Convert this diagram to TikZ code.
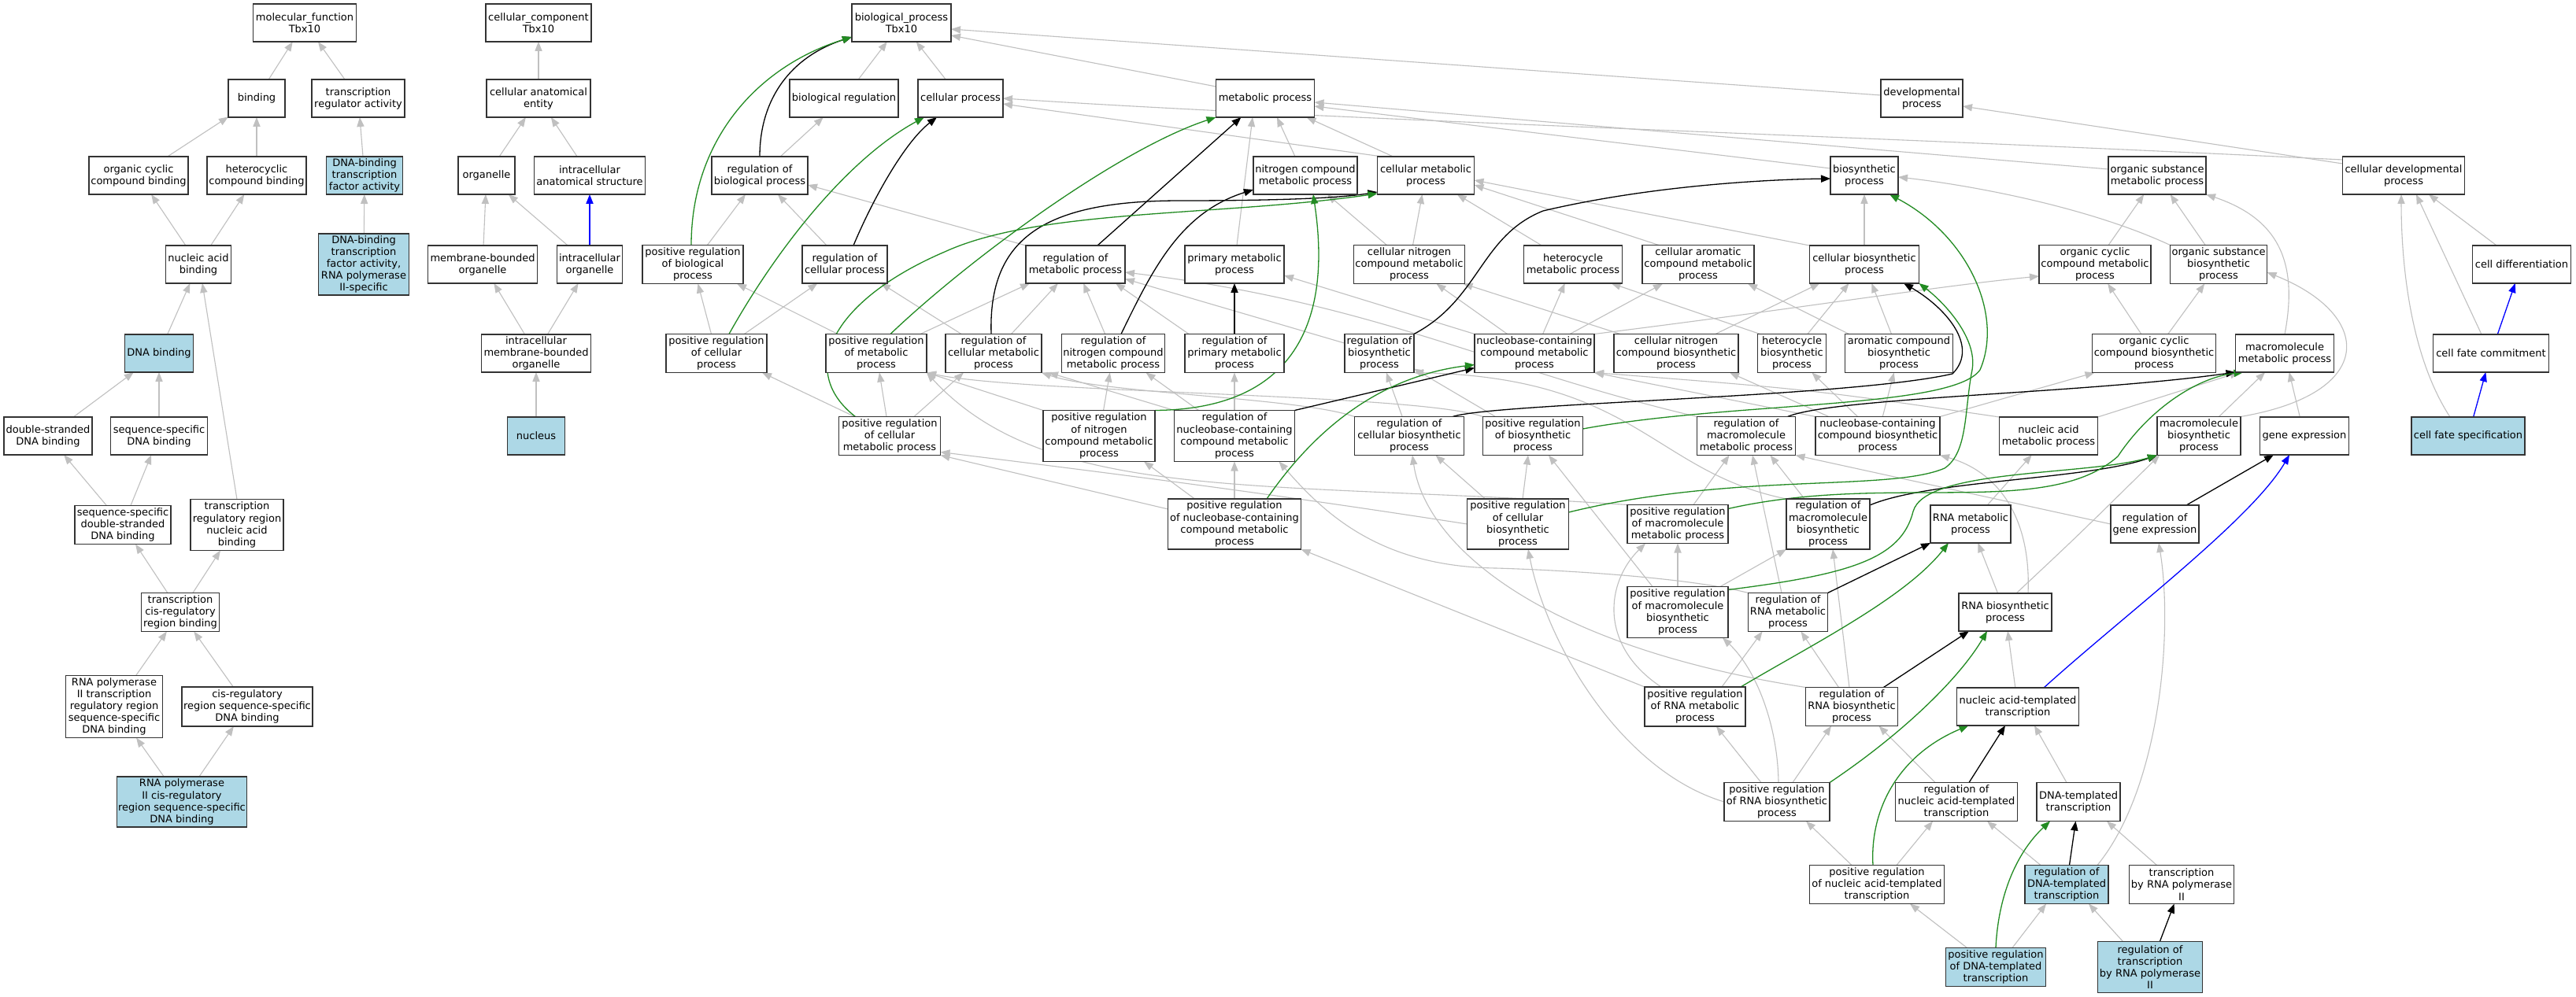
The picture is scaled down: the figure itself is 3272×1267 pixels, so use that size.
\documentclass[tikz,border=0pt]{standalone}
\usepackage{fontspec}
\setmainfont{DejaVu Sans}
\usetikzlibrary{arrows.meta,calc,backgrounds}
\definecolor{eg}{HTML}{C0C0C0}
\definecolor{pg}{HTML}{228B22}
\definecolor{lb}{HTML}{ADD8E6}
\newcommand{\gofont}{\fontsize{6.5pt}{7.55pt}\selectfont}
\tikzset{
 bx/.style 2 args={draw=black!80, line width=0.7pt, fill=white, minimum width=#1*0.5pt, minimum height=#2*0.5pt, inner sep=0pt, outer sep=0pt, align=center, font=\gofont},
 hl/.style={fill=lb},
 isa/.style={draw=eg, line width=0.55pt, -{Triangle[length=6pt,width=4.6pt]}},
 rgl/.style={draw=black, line width=0.65pt, -{Triangle[length=6pt,width=4.6pt]}},
 prg/.style={draw=pg, line width=0.65pt, -{Triangle[length=6pt,width=4.6pt]}},
 prt/.style={draw=blue, line width=0.65pt, -{Triangle[length=6pt,width=4.6pt]}},
}
\begin{document}
\begin{tikzpicture}[x=0.5pt,y=-0.5pt]
\useasboundingbox (0,0) rectangle (3272,1267);
% ---------------- molecular function
\node[bx={131}{48}] (mf) at (387,29) {molecular\_function\\Tbx10};
\node[bx={72}{48}] (binding) at (326,125) {binding};
\node[bx={118}{48}] (tra) at (455,125) {transcription\\regulator activity};
\node[bx={126}{48}] (occb) at (176,223) {organic cyclic\\compound binding};
\node[bx={126}{48}] (hcb) at (326,223) {heterocyclic\\compound binding};
\node[bx={97}{48},hl] (dbtf) at (463,223) {DNA-binding\\transcription\\factor activity};
\node[bx={83}{48}] (nab) at (252,336) {nucleic acid\\binding};
\node[bx={115}{78},hl] (dbtf2) at (462,336) {DNA-binding\\transcription\\factor activity,\\RNA polymerase\\II-specific};
\node[bx={87}{48},hl] (dnab) at (202,449) {DNA binding};
\node[bx={112}{48}] (dsdna) at (61,554) {double-stranded\\DNA binding};
\node[bx={123}{48}] (ssdna) at (202,554) {sequence-specific\\DNA binding};
\node[bx={122}{49}] (ssds) at (156,667) {sequence-specific\\double-stranded\\DNA binding};
\node[bx={118}{65}] (trrnab) at (301,667) {transcription\\regulatory region\\nucleic acid\\binding};
\node[bx={99}{49}] (tcrrb) at (229,778) {transcription\\cis-regulatory\\region binding};
\node[bx={123}{79}] (rp2trr) at (145,898) {RNA polymerase\\II transcription\\regulatory region\\sequence-specific\\DNA binding};
\node[bx={166}{50}] (crrss) at (314,898) {cis-regulatory\\region sequence-specific\\DNA binding};
\node[bx={165}{64},hl] (rp2cr) at (231,1019) {RNA polymerase\\II cis-regulatory\\region sequence-specific\\DNA binding};
% ---------------- cellular component
\node[bx={134}{48}] (cc) at (684,29) {cellular\_component\\Tbx10};
\node[bx={132}{48}] (cae) at (684,125) {cellular anatomical\\entity};
\node[bx={72}{48}] (org) at (618,223) {organelle};
\node[bx={141}{48}] (ias) at (749,223) {intracellular\\anatomical structure};
\node[bx={139}{48}] (mbo) at (613,336) {membrane-bounded\\organelle};
\node[bx={83}{48}] (io) at (749,336) {intracellular\\organelle};
\node[bx={139}{48}] (imbo) at (681,449) {intracellular\\membrane-bounded\\organelle};
\node[bx={73}{48},hl] (nucleus) at (681,554) {nucleus};
% ---------------- biological process
\node[bx={126}{48}] (bp) at (1145,29) {biological\_process\\Tbx10};
\node[bx={138}{48}] (bioreg) at (1072,125) {biological regulation};
\node[bx={108}{48}] (cp) at (1220,125) {cellular process};
\node[bx={125}{48}] (mp) at (1607,125) {metabolic process};
\node[bx={104}{48}] (dp) at (2441,125) {developmental\\process};
\node[bx={122}{48}] (rbp) at (965,223) {regulation of\\biological process};
\node[bx={132}{48}] (ncmp) at (1658,223) {nitrogen compound\\metabolic process};
\node[bx={123}{48}] (cmp) at (1811,223) {cellular metabolic\\process};
\node[bx={86}{48}] (bsp) at (2368,223) {biosynthetic\\process};
\node[bx={124}{48}] (osmp) at (2740,223) {organic substance\\metabolic process};
\node[bx={155}{48}] (cdp) at (3053,223) {cellular developmental\\process};
\node[bx={128}{49}] (prbp) at (880,336) {positive regulation\\of biological\\process};
\node[bx={108}{48}] (rcp) at (1073,336) {regulation of\\cellular process};
\node[bx={126}{48}] (rmp) at (1366,336) {regulation of\\metabolic process};
\node[bx={126}{48}] (pmp) at (1568,336) {primary metabolic\\process};
\node[bx={141}{49}] (cncmp) at (1790,336) {cellular nitrogen\\compound metabolic\\process};
\node[bx={125}{48}] (hmp) at (1998,336) {heterocycle\\metabolic process};
\node[bx={142}{49}] (camp) at (2157,336) {cellular aromatic\\compound metabolic\\process};
\node[bx={139}{48}] (cbp) at (2368,336) {cellular biosynthetic\\process};
\node[bx={142}{49}] (occmp) at (2661,336) {organic cyclic\\compound metabolic\\process};
\node[bx={123}{49}] (osbp) at (2818,336) {organic substance\\biosynthetic\\process};
\node[bx={125}{48}] (cdiff) at (3203,336) {cell differentiation};
\node[bx={128}{49}] (prcp) at (910,449) {positive regulation\\of cellular\\process};
\node[bx={128}{49}] (prmp) at (1113,449) {positive regulation\\of metabolic\\process};
\node[bx={122}{49}] (rcmp) at (1262,449) {regulation of\\cellular metabolic\\process};
\node[bx={131}{49}] (rncmp) at (1414,449) {regulation of\\nitrogen compound\\metabolic process};
\node[bx={126}{49}] (rpmp) at (1568,449) {regulation of\\primary metabolic\\process};
\node[bx={88}{49}] (rbsp) at (1752,449) {regulation of\\biosynthetic\\process};
\node[bx={152}{49}] (nccmp) at (1949,449) {nucleobase-containing\\compound metabolic\\process};
\node[bx={158}{49}] (cncbp) at (2129,449) {cellular nitrogen\\compound biosynthetic\\process};
\node[bx={87}{49}] (hbp) at (2276,449) {heterocycle\\biosynthetic\\process};
\node[bx={137}{49}] (acbp) at (2412,449) {aromatic compound\\biosynthetic\\process};
\node[bx={157}{49}] (occbp) at (2736,449) {organic cyclic\\compound biosynthetic\\process};
\node[bx={125}{48}] (mmp) at (2902,449) {macromolecule\\metabolic process};
\node[bx={147}{48}] (cfc) at (3164,449) {cell fate commitment};
\node[bx={129}{49}] (prcmp) at (1130,554) {positive regulation\\of cellular\\metabolic process};
\node[bx={142}{65}] (prncmp) at (1396,554) {positive regulation\\of nitrogen\\compound metabolic\\process};
\node[bx={153}{65}] (rnccmp) at (1568,554) {regulation of\\nucleobase-containing\\compound metabolic\\process};
\node[bx={139}{49}] (rcbp) at (1790,554) {regulation of\\cellular biosynthetic\\process};
\node[bx={127}{49}] (prbsp) at (1947,554) {positive regulation\\of biosynthetic\\process};
\node[bx={125}{49}] (rmmp) at (2218,554) {regulation of\\macromolecule\\metabolic process};
\node[bx={158}{49}] (nccbp) at (2385,554) {nucleobase-containing\\compound biosynthetic\\process};
\node[bx={125}{48}] (namp) at (2602,554) {nucleic acid\\metabolic process};
\node[bx={106}{49}] (mbp) at (2793,554) {macromolecule\\biosynthetic\\process};
\node[bx={113}{48}] (ge) at (2927,554) {gene expression};
\node[bx={144}{48},hl] (cfs) at (3135,554) {cell fate specification};
\node[bx={169}{64}] (prnccmp) at (1568,666) {positive regulation\\of nucleobase-containing\\compound metabolic\\process};
\node[bx={129}{64}] (prcbp) at (1928,666) {positive regulation\\of cellular\\biosynthetic\\process};
\node[bx={128}{49}] (prmmp) at (2131,666) {positive regulation\\of macromolecule\\metabolic process};
\node[bx={106}{64}] (rmbp) at (2322,666) {regulation of\\macromolecule\\biosynthetic\\process};
\node[bx={102}{48}] (rnamp) at (2503,666) {RNA metabolic\\process};
\node[bx={112}{48}] (rge) at (2737,666) {regulation of\\gene expression};
\node[bx={128}{65}] (prmbp) at (2131,778) {positive regulation\\of macromolecule\\biosynthetic\\process};
\node[bx={101}{49}] (rrnamp) at (2271,778) {regulation of\\RNA metabolic\\process};
\node[bx={118}{48}] (rnabp) at (2547,778) {RNA biosynthetic\\process};
\node[bx={128}{50}] (prrnamp) at (2153,898) {positive regulation\\of RNA metabolic\\process};
\node[bx={117}{49}] (rrnabp) at (2352,898) {regulation of\\RNA biosynthetic\\process};
\node[bx={155}{48}] (natt) at (2563,898) {nucleic acid-templated\\transcription};
\node[bx={134}{49}] (prrnabp) at (2257,1019) {positive regulation\\of RNA biosynthetic\\process};
\node[bx={155}{49}] (rnatt) at (2485,1019) {regulation of\\nucleic acid-templated\\transcription};
\node[bx={106}{49}] (dtt) at (2640,1019) {DNA-templated\\transcription};
\node[bx={171}{49}] (prnatt) at (2384,1124) {positive regulation\\of nucleic acid-templated\\transcription};
\node[bx={106}{49},hl] (rdtt) at (2625,1124) {regulation of\\DNA-templated\\transcription};
\node[bx={133}{49}] (trp2) at (2771,1124) {transcription\\by RNA polymerase\\II};
\node[bx={127}{49},hl] (prdtt) at (2535,1229) {positive regulation\\of DNA-templated\\transcription};
\node[bx={133}{65},hl] (rtrp2) at (2731,1229) {regulation of\\transcription\\by RNA polymerase\\II};

\begin{pgfonlayer}{background}
\fill[white] (0,0) rectangle (3272,1267);
% ---- MF
\draw[isa] (binding) -- (mf);
\draw[isa] (tra) -- (mf);
\draw[isa] (occb) -- (binding);
\draw[isa] (hcb) -- (binding);
\draw[isa] (dbtf) -- (tra);
\draw[isa] (nab) -- (occb);
\draw[isa] (nab) -- (hcb);
\draw[isa] (dbtf2) -- (dbtf);
\draw[isa] (dnab) -- (nab);
\draw[isa] (dsdna) -- (dnab);
\draw[isa] (ssdna) -- (dnab);
\draw[isa] (trrnab.north) -- ($(nab.south)+(5,0)$);
\draw[isa] (ssds) -- (dsdna);
\draw[isa] (ssds) -- (ssdna);
\draw[isa] (tcrrb) -- (ssds);
\draw[isa] (tcrrb) -- (trrnab);
\draw[isa] (rp2trr) -- (tcrrb);
\draw[isa] (crrss) -- (tcrrb);
\draw[isa] (rp2cr) -- (rp2trr);
\draw[isa] (rp2cr) -- (crrss);
% ---- CC
\draw[isa] (cae) -- (cc);
\draw[isa] (org) -- (cae);
\draw[isa] (ias) -- (cae);
\draw[isa] (mbo) -- (org);
\draw[isa] (io) -- (org);
\draw[prt] (io) -- (ias);
\draw[isa] (imbo) -- (mbo);
\draw[isa] (imbo) -- (io);
\draw[isa] (nucleus) -- (imbo);
% ---- BP gray
\draw[isa] (bioreg) -- (bp);
\draw[isa] (cp) -- (bp);
\draw[isa] ($(mp.west)+(0,-15)$) -- ($(bp.east)+(0,16)$);
\draw[isa] ($(dp.west)+(0,-4)$) -- ($(bp.east)+(0,8)$);
\draw[isa] (rbp) -- (bioreg);
\draw[isa] (prbp) -- (rbp);
\draw[isa] (rcp) -- (rbp);
\draw[isa] (prcp) -- (prbp);
\draw[isa] (prcp) -- (rcp);
\draw[isa] ($(cmp.north west)+(20,0)$) -- ($(mp.south east)+(-10,0)$);
\draw[isa] ($(cmp.north west)+(6,0)$) -- ($(cp.east)+(0,7)$);
\draw[isa] ($(ncmp.north)+(-13,0)$) -- ($(mp.south)+(15,0)$);
\draw[isa] ($(bsp.west)+(0,-9)$) -- ($(mp.east)+(0,10)$);
\draw[isa] ($(osmp.west)+(0,-8)$) -- ($(mp.east)+(0,5)$);
\draw[isa] ($(cdp.west)+(0,-15)$) -- ($(dp.east)+(0,10)$);
\draw[isa] ($(cdp.west)+(0,-20)$) .. controls (2300,170) and (1700,153) .. ($(cp.east)+(0,0)$);
\draw[isa] (pmp) -- ($(mp.south)+(-16,0)$);
\draw[isa] (cncmp) -- (ncmp);
\draw[isa] (cncmp) -- (cmp);
\draw[isa] (hmp) -- (cmp);
\draw[isa] ($(camp.north west)+(21,0)$) -- ($(cmp.east)+(0,12)$);
\draw[isa] (cbp.north west) -- ($(cmp.east)+(0,6)$);
\draw[isa] (cbp) -- (bsp);
\draw[isa] (occmp) -- (osmp);
\draw[isa] (osbp) -- (osmp);
\draw[isa] (osbp.north west) .. controls (2650,262) and (2500,235) .. ($(bsp.east)+(0,2)$);
\draw[isa] (cdiff) -- (cdp);
\draw[isa] (rmp.north west) -- ($(rbp.east)+(0,12)$);
\draw[isa] ($(prmp.north east)+(-8,0)$) -- ($(rmp.south west)+(5,0)$);
\draw[isa] ($(prmp.north west)+(15,0)$) -- ($(prbp.south east)+(-8,0)$);
\draw[isa] (rcmp) -- (rmp);
\draw[isa] ($(rcmp.north west)+(20,0)$) -- ($(rcp.south east)+(-8,0)$);
\draw[isa] (rncmp) -- (rmp);
\draw[isa] ($(rpmp.north west)+(5,0)$) -- ($(rmp.south east)+(-12,0)$);
\draw[isa] (rbsp) -- (rmp);
\draw[isa] (nccmp) -- (cncmp);
\draw[isa] (nccmp) -- (hmp);
\draw[isa] (nccmp) -- (camp);
\draw[isa] (nccmp.north east) .. controls (2300,390) and (2450,365) .. ($(occmp.west)+(0,15)$);
\draw[isa] (nccmp.north west) -- ($(pmp.east)+(0,14)$);
\draw[isa] ($(cncbp.north west)+(8,0)$) -- ($(cncmp.south east)+(-2,0)$);
\draw[isa] ($(cncbp.north)+(50,0)$) -- ($(cbp.south west)+(13,0)$);
\draw[isa] ($(hbp.north west)+(3,0)$) -- ($(hmp.south east)+(-14,0)$);
\draw[isa] (hbp) -- (cbp);
\draw[isa] ($(acbp.north west)+(5,0)$) -- ($(camp.south east)+(-8,0)$);
\draw[isa] (acbp) -- (cbp);
\draw[isa] (occbp) -- (occmp);
\draw[isa] (occbp) -- (osbp);
\draw[isa] (mmp.north) .. controls (2918,340) and (2900,280) .. (osmp.south east);
\draw[isa] ($(cfc.north)+(-12,0)$) -- ($(cdp.south)+(16,0)$);
\draw[isa] ($(cfs.north west)+(49,0)$) .. controls (3060,450) and (3050,330) .. ($(cdp.south)+(-3,0)$);
\draw[isa] (prcmp) -- (prmp);
\draw[isa] ($(prcmp.north)+(31,0)$) -- ($(rcmp.south west)+(23,0)$);
\draw[isa] ($(prcmp.north west)+(20,0)$) -- ($(prcp.south east)+(-6,0)$);
\draw[isa] (prncmp.north west) -- (prmp.south east);
\draw[isa] (prncmp) -- (rncmp);
\draw[isa] (rnccmp.north west) -- ($(rcmp.south east)+(9,0)$);
\draw[isa] ($(rnccmp.north west)+(31,0)$) -- ($(rncmp.south east)+(-24,0)$);
\draw[isa] (rnccmp) -- (rpmp);
\draw[isa] (rcbp) -- (rbsp);
\draw[isa] (rcbp.north west) .. controls (1650,505) and (1400,500) .. (rcmp.south east);
\draw[isa] ($(prbsp.north west)+(16,0)$) -- ($(rbsp.south east)+(0,-5)$);
\draw[isa] (prbsp.north west) .. controls (1800,500) and (1300,500) .. (prmp.south east);
\draw[isa] (rmmp.north west) .. controls (1900,470) and (1750,385) .. ($(rmp.east)+(0,10)$);
\draw[isa] (nccbp.north west) -- (nccmp.south east);
\draw[isa] ($(nccbp.north west)+(17,0)$) -- ($(cncbp.south east)+(-11,0)$);
\draw[isa] (nccbp) -- (hbp);
\draw[isa] (nccbp) -- (acbp);
\draw[isa] (nccbp.north east) -- ($(occbp.south west)+(3,0)$);
\draw[isa] (namp.north west) .. controls (2300,495) .. (nccmp.south east);
\draw[isa] (namp.north east) -- ($(mmp.south west)+(5,0)$);
\draw[isa] (mbp) -- (mmp);
\draw[isa] (mbp.north east) .. controls (3020,500) and (3015,400) .. ($(osbp.east)+(0,10)$);
\draw[isa] (ge) -- (mmp);
\draw[isa] (prnccmp) -- (rnccmp);
\draw[isa] ($(prnccmp.west)+(0,-19)$) -- (prcmp.south east);
\draw[isa] ($(prnccmp.north west)+(34,0)$) -- ($(prncmp.south east)+(-14,0)$);
\draw[isa] ($(prcbp.north west)+(23,0)$) -- ($(rcbp.south east)+(-36,0)$);
\draw[isa] ($(prcbp.north)+(6,0)$) -- ($(prbsp.south)+(-6,0)$);
\draw[isa] (prcbp.west) .. controls (1600,625) and (1400,600) .. ($(prcmp.south east)+(0,-4)$);
\draw[isa] ($(prmmp.north)+(20,0)$) -- ($(rmmp.south west)+(41,0)$);
\draw[isa] (prmmp.north west) .. controls (1600,610) and (1330,640) .. (prmp.south east);
\draw[isa] ($(rmbp.north west)+(23,0)$) -- ($(rmmp.south east)+(-32,0)$);
\draw[isa] (rmbp.north west) .. controls (2100,600) and (2080,480) .. (rbsp.south east);
\draw[isa] (rnamp) -- (namp);
\draw[isa] (rge.west) -- (rmmp.south east);
\draw[isa] (prmbp) -- (prmmp);
\draw[isa] ($(prmbp.north east)+(-10,0)$) -- (rmbp.south west);
\draw[isa] ($(prmbp.north west)+(32,0)$) -- ($(prbsp.south)+(20,0)$);
\draw[isa] ($(rrnamp.north)+(-8,0)$) -- ($(rmmp.south)+(8,0)$);
\draw[isa] (rrnamp.north west) .. controls (2150,735) and (2000,725) .. (1900,722) .. controls (1750,720) and (1680,650) .. ($(rnccmp.south east)+(-20,0)$);
\draw[isa] (rnabp) -- (rnamp);
\draw[isa] ($(rnabp.north)+(29,0)$) .. controls (2580,660) and (2540,600) .. (nccbp.south east);
\draw[isa] ($(rnabp.north)+(14,0)$) .. controls (2640,680) .. ($(mbp.south west)+(3,0)$);
\draw[isa] ($(prrnamp.north east)+(-30,0)$) -- ($(rrnamp.south west)+(18,0)$);
\draw[isa] (prrnamp.north west) -- (prnccmp.south east);
\draw[isa] ($(prrnamp.north west)+(21,0)$) .. controls (2030,820) and (2040,740) .. ($(prmmp.south west)+(23,0)$);
\draw[isa] (rrnabp) -- (rrnamp);
\draw[isa] (rrnabp.north west) .. controls (1950,820) and (1810,690) .. ($(rcbp.south)+(4,0)$);
\draw[isa] ($(rrnabp.north)+(-3,0)$) -- ($(rmbp.south)+(6,0)$);
\draw[isa] (natt) -- (rnabp);
\draw[isa] ($(prrnabp.north)+(20,0)$) -- ($(rrnabp.south)+(-26,0)$);
\draw[isa] ($(prrnabp.north)+(-20,0)$) -- ($(prrnamp.south)+(27,0)$);
\draw[isa] (prrnabp.west) .. controls (2060,980) and (1965,820) .. ($(prcbp.south)+(13,0)$);
\draw[isa] ($(prrnabp.north)+(2,0)$) .. controls (2258,920) and (2230,850) .. ($(prmbp.south east)+(-7,0)$);
\draw[isa] ($(rnatt.north)+(-27,0)$) -- ($(rrnabp.south east)+(-24,0)$);
\draw[isa] ($(dtt.north)+(-15,0)$) -- ($(natt.south)+(21,0)$);
\draw[isa] ($(prnatt.north)+(25,0)$) -- ($(rnatt.south)+(-30,0)$);
\draw[isa] ($(prnatt.north)+(-32,0)$) -- ($(prrnabp.south)+(37,0)$);
\draw[isa] ($(rdtt.north west)+(20,0)$) -- ($(rnatt.south)+(39,0)$);
\draw[isa] ($(rdtt.north east)+(-14,0)$) .. controls (2745,1000) and (2760,800) .. ($(rge.south)+(5,0)$);
\draw[isa] ($(trp2.north west)+(35,0)$) -- ($(dtt.south east)+(-17,0)$);
\draw[isa] ($(prdtt.north west)+(27,0)$) -- ($(prnatt.south)+(42,0)$);
\draw[isa] ($(prdtt.north)+(21,0)$) -- ($(rdtt.south west)+(27,0)$);
\draw[isa] ($(rtrp2.north west)+(32,0)$) -- ($(rdtt.south east)+(-25,0)$);
% ---- regulates (black)
\draw[rgl] (rbp.north) .. controls (965,125) and (1005,72) .. ($(bp.south west)+(0,-6)$);
\draw[rgl] ($(rcp.north)+(11,0)$) .. controls (1110,250) and (1150,180) .. ($(cp.south)+(-30,0)$);
\draw[rgl] ($(rmp.north)+(28,0)$) -- ($(mp.south west)+(32,0)$);
\draw[rgl] ($(rcmp.north)+(-3,0)$) .. controls (1255,300) and (1330,255) .. (1500,255) .. controls (1620,255) and (1700,252) .. ($(cmp.south west)+(0,-3)$);
\draw[rgl] ($(rncmp.north)+(10,0)$) .. controls (1465,340) and (1500,270) .. ($(ncmp.south west)+(0,-6)$);
\draw[rgl] (rpmp) -- (pmp);
\draw[rgl] (rbsp.north east) .. controls (1880,380) and (1880,300) .. (1960,268) .. controls (2100,235) and (2250,228) .. ($(bsp.west)+(0,4)$);
\draw[rgl] (rnccmp.north east) -- ($(nccmp.south west)+(0,-6)$);
\draw[rgl] ($(rcbp.north)+(55,0)$) .. controls (1900,512) and (2350,505) .. (2480,475) .. controls (2515,440) and (2470,390) .. ($(cbp.south)+(50,0)$);
\draw[rgl] ($(rmmp.north east)+(-10,0)$) .. controls (2330,505) and (2650,500) .. (mmp.south west);
\draw[rgl] ($(rmbp.north east)+(0,8)$) .. controls (2450,610) and (2650,610) .. (mbp.south west);
\draw[rgl] ($(rge.north east)+(-16,0)$) -- ($(ge.south)+(-39,0)$);
\draw[rgl] (rrnamp.north east) -- (rnamp.south west);
\draw[rgl] ($(rrnabp.north east)+(-18,0)$) -- ($(rnabp.south west)+(13,0)$);
\draw[rgl] ($(rnatt.north)+(16,0)$) -- ($(natt.south)+(-16,0)$);
\draw[rgl] (rdtt) -- (dtt);
\draw[rgl] (rtrp2) -- (trp2);
% ---- positively regulates (green)
\draw[prg] ($(prbp.north)+(-2,0)$) .. controls (878,180) and (960,85) .. ($(bp.south west)+(0,-6)$);
\draw[prg] ($(prcp.north)+(16,0)$) .. controls (990,310) and (1080,200) .. ($(cp.south west)+(8,0)$);
\draw[prg] ($(prmp.north)+(18,0)$) .. controls (1230,330) and (1420,190) .. (mp.south west);
\draw[prg] ($(prcmp.north west)+(21,0)$) .. controls (1010,470) and (1060,380) .. (1200,320) .. controls (1320,265) and (1550,275) .. ($(cmp.south west)+(0,-1)$);
\draw[prg] (prncmp.north east) .. controls (1680,520) and (1685,360) .. ($(ncmp.south)+(10,0)$);
\draw[prg] ($(prnccmp.north)+(41,0)$) .. controls (1660,560) and (1740,480) .. ($(nccmp.south west)+(0,-10)$);
\draw[prg] ($(prbsp.east)+(0,-9)$) .. controls (2200,510) and (2480,520) .. (2515,470) .. controls (2545,400) and (2500,300) .. ($(bsp.south)+(32,0)$);
\draw[prg] ($(prcbp.east)+(0,-15)$) .. controls (2200,600) and (2400,625) .. (2470,595) .. controls (2500,575) and (2495,520) .. (2505,470) .. controls (2512,430) and (2470,385) .. (cbp.south east);
\draw[prg] ($(prmmp.north east)+(0,5)$) .. controls (2400,600) and (2600,660) .. (2690,580) .. controls (2730,520) and (2790,480) .. ($(mmp.south west)+(10,0)$);
\draw[prg] ($(prmbp.north east)+(0,4)$) .. controls (2350,730) and (2415,710) .. (2430,650) .. controls (2445,595) and (2650,605) .. (mbp.south west);
\draw[prg] ($(prrnamp.north east)+(-6,0)$) .. controls (2300,820) and (2420,760) .. ($(rnamp.south)+(-28,0)$);
\draw[prg] (prrnabp.north east) .. controls (2420,930) and (2490,860) .. ($(rnabp.south)+(-23,0)$);
\draw[prg] ($(prnatt.north)+(-5,0)$) .. controls (2375,1030) and (2410,960) .. ($(natt.south west)+(15,0)$);
\draw[prg] (prdtt.north) .. controls (2538,1140) and (2560,1085) .. ($(dtt.south)+(-36,0)$);
% ---- part of (blue)
\draw[prt] ($(natt.north)+(33,0)$) .. controls (2700,780) and (2860,660) .. ($(ge.south)+(-19,0)$);
\draw[prt] (cfs) -- (cfc);
\draw[prt] (cfc) -- (cdiff);
\end{pgfonlayer}
\end{tikzpicture}
\end{document}
